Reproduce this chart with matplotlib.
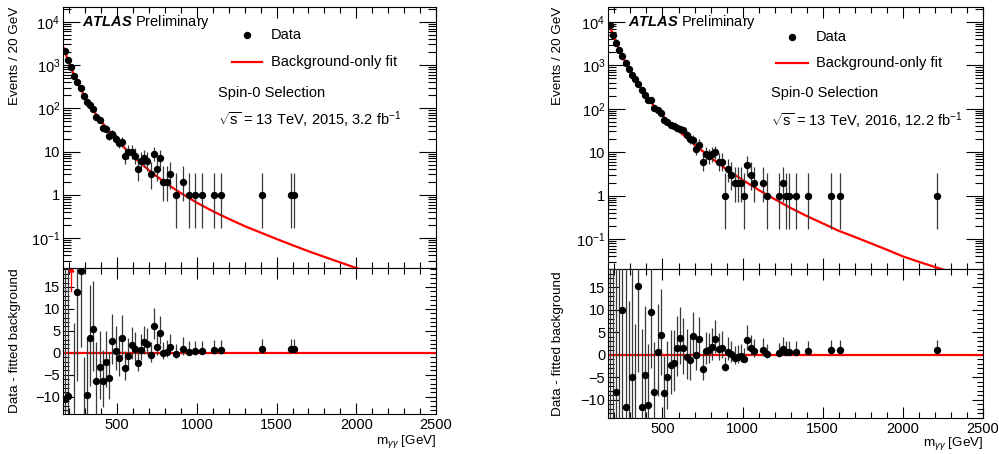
import numpy as np
import matplotlib
matplotlib.use("Agg")
import matplotlib.pyplot as plt
from matplotlib.lines import Line2D
from matplotlib.ticker import MultipleLocator, FixedLocator, LogLocator, FuncFormatter, NullFormatter

plt.rcParams["font.family"] = ["Liberation Sans", "DejaVu Sans"]
plt.rcParams["mathtext.fontset"] = "custom"
plt.rcParams["mathtext.rm"] = "Liberation Sans"
plt.rcParams["mathtext.it"] = "Liberation Sans:italic"
plt.rcParams["mathtext.bf"] = "Liberation Sans:bold"
plt.rcParams["mathtext.bfit"] = "Liberation Sans:italic:bold"

# ---- 2015 data (3.2 fb-1) ----
mass_2015 = [170, 190, 210, 230, 250, 270, 290, 310, 330, 350,
             370, 390, 410, 430, 450, 470, 490, 510, 530, 550,
             570, 590, 610, 630, 650, 670, 690, 710, 730, 750,
             770, 790, 810, 830, 870, 910, 950, 990, 1030, 1110,
             1150, 1410, 1590, 1610]
counts_2015 = [2150, 1310, 905, 550, 405, 300, 190, 142, 120, 95,
               63, 53, 36, 34, 23, 26, 20, 16, 17, 8,
               10, 10, 8, 4, 6, 7, 6, 3, 9, 4,
               7, 2, 2, 3, 1, 2, 1, 1, 1, 1,
               1, 1, 1, 1]
resid_2015 = [-10.5, -9.7, 39, -17.7, 13.8, 18.6, -15.8, -9.5, 3.4, 5.5,
              -6.5, -3.3, -6.4, -2.0, -5.7, 2.6, 0.5, -1.2, 3.4, -3.5,
              -0.8, 1.7, 0.9, -2.2, 0.7, 2.4, 2.1, -0.5, 6.0, 1.4,
              4.6, -0.1, 0.3, 1.4, -0.3, 0.9, 0.3, 0.4, 0.5, 0.6,
              0.6, 0.87, 0.93, 0.93]
fit_m_2015 = [160, 200, 250, 300, 350, 400, 450, 500, 550, 600, 650, 700, 750,
              800, 850, 900, 1000, 1100, 1200, 1300, 1400, 1500, 1600, 1700,
              1800, 1900, 2000, 2050]
fit_2015 = [2700, 1060, 391, 178, 90, 50, 29.5, 18.5, 11.8, 7.8, 5.3, 3.7, 2.65,
            1.95, 1.45, 1.1, 0.66, 0.42, 0.28, 0.19, 0.135, 0.096, 0.069, 0.05,
            0.037, 0.0275, 0.0205, 0.018]

# ---- 2016 data (12.2 fb-1) ----
mass_2016 = [170, 190, 210, 230, 250, 270, 290, 310, 330, 350,
             370, 390, 410, 430, 450, 470, 490, 510, 530, 550,
             570, 590, 610, 630, 650, 670, 690, 710, 730, 750,
             770, 790, 810, 830, 850, 870, 890, 910, 930, 950,
             970, 990, 1010, 1030, 1050, 1070, 1130, 1150, 1230, 1250,
             1270, 1290, 1330, 1410, 1550, 1610, 2210]
counts_2016 = [8300, 5100, 3330, 2270, 1600, 1130, 840, 605, 475, 368,
               272, 208, 160, 158, 104, 96, 82, 54, 50, 43,
               40, 37, 34, 32, 25, 20, 19, 12, 15, 6,
               9, 8, 9, 10, 6, 6, 1, 4, 3, 2,
               2, 2, 1, 5, 3, 2, 2, 1, 1, 2,
               1, 1, 1, 1, 1, 1, 1]
resid_2016 = [-30, -22, -8.2, -20, 10.0, -11.6, -18, -5.0, -16, 15.3,
              -11.7, -4.5, -11.3, 9.6, -8.3, 0.5, 4.5, -8.6, -5.0, -2.2,
              -1.8, 1.4, 3.8, 1.4, -0.4, -1.1, 4.1, -0.1, 3.4, -3.2,
              0.9, 1.0, 1.8, 3.4, 1.2, 1.6, -2.8, 0.7, 0.1, -0.7,
              -0.5, -0.3, -0.9, 3.3, 1.5, 0.8, 1.1, 0.2, 0.4, 1.3,
              0.7, 0.7, 0.7, 0.8, 1.0, 1.0, 1.0]
fit_m_2016 = [170, 200, 250, 300, 350, 400, 450, 500, 550, 600, 650, 700, 750,
              800, 850, 900, 1000, 1100, 1200, 1300, 1400, 1500, 1600, 1700,
              1800, 1900, 2000, 2100, 2200, 2300]
fit_2016 = [8250, 4150, 1590, 720, 360, 190, 113, 70, 45, 31, 21.5, 15, 10.6,
            7.6, 5.5, 4.0, 2.3, 1.35, 0.83, 0.52, 0.34, 0.23, 0.155, 0.112,
            0.08, 0.057, 0.04, 0.03, 0.0228, 0.0175]

resid_ticks = [-10, -5, 0, 5, 10, 15]

W, H = 999, 454


def fx(px):
    return px / W


def fy(py):
    return 1 - py / H


def poisson_err(n):
    # approximate Garwood 68% intervals
    n = np.asarray(n, float)
    lo = n * (1 - 1 / (9 * n) - 1 / (3 * np.sqrt(n))) ** 3
    up = (n + 1) * (1 - 1 / (9 * (n + 1)) + 1 / (3 * np.sqrt(n + 1))) ** 3
    return n - lo, up - n


def log_fmt(v, pos):
    if abs(v - 1) < 1e-9:
        return "1"
    if abs(v - 10) < 1e-9:
        return "10"
    return r"$10^{%d}$" % int(round(np.log10(v)))


def style_axes(ax, ylen_major, ylen_minor):
    ax.tick_params(which="both", direction="in", top=True, right=True,
                   labelsize=10.5, width=0.8)
    ax.tick_params(axis="x", which="major", length=8, pad=3)
    ax.tick_params(axis="x", which="minor", length=4)
    ax.tick_params(axis="y", which="major", length=ylen_major, pad=2)
    ax.tick_params(axis="y", which="minor", length=ylen_minor)
    for s in ax.spines.values():
        s.set_linewidth(0.8)
    ax.xaxis.set_major_locator(MultipleLocator(500))
    ax.xaxis.set_minor_locator(MultipleLocator(100))


def draw_panel(fig, box, mass, counts, resid, fit_m, fit_v, ylims, texts):
    left, right, top, mid, bottom = box
    ax = fig.add_axes([fx(left), fy(mid), (right - left) / W, (mid - top) / H])
    axr = fig.add_axes([fx(left), fy(bottom), (right - left) / W, (bottom - mid) / H])
    lo, up = poisson_err(counts)

    ax.set_yscale("log")
    ax.set_xlim(160, 2500)
    ax.set_ylim(0.0205, 2.2e4)
    ax.plot(fit_m, fit_v, color="red", lw=1.6, zorder=2)
    ax.errorbar(mass, counts, yerr=[lo, up], fmt="o", color="black", ms=4.3,
                ecolor="#3a3a3a", elinewidth=0.9, capsize=0, zorder=3)
    style_axes(ax, 12, 6)
    ax.yaxis.set_major_locator(FixedLocator([0.1, 1, 10, 100, 1000, 10000]))
    ax.yaxis.set_minor_locator(LogLocator(base=10, subs=np.arange(2, 10), numticks=12))
    ax.yaxis.set_major_formatter(FuncFormatter(log_fmt))
    ax.yaxis.set_minor_formatter(NullFormatter())
    ax.tick_params(labelbottom=False)

    # residual panel; points above the range are shown as a red arrow only
    res = np.array(resid, float)
    over = res > ylims[1]
    res_drawn = np.where(over, np.nan, res)
    axr.set_xlim(160, 2500)
    axr.set_ylim(*ylims)
    axr.axhline(0, color="red", lw=1.6, zorder=2)
    axr.errorbar(mass, res_drawn, yerr=[lo, up], fmt="o", color="black", ms=4.3,
                 ecolor="#3a3a3a", elinewidth=0.9, capsize=0, zorder=3)
    for m in np.array(mass)[over]:
        axr.add_artist(Line2D([m, m], [ylims[1] - 5.2, ylims[1] - 0.3], color="red",
                              lw=1, marker="^", markevery=[1], ms=3.5))
    style_axes(axr, 8, 4)
    axr.yaxis.set_major_locator(FixedLocator(resid_ticks))
    axr.yaxis.set_minor_locator(MultipleLocator(1))

    # labels
    fig.text(fx(texts["ylab_x"]), fy(top), "Events / 20 GeV", rotation=90,
             ha="center", va="top", fontsize=9.7)
    fig.text(fx(texts["ylab_x"]), fy((mid + bottom) / 2), "Data - fitted background",
             rotation=90, ha="center", va="center", fontsize=9.7)
    fig.text(fx(right), fy(texts["xlab_y"]), r"m$_{\gamma\gamma}$ [GeV]",
             ha="right", va="center", fontsize=9.7)

    # ATLAS label and legend
    tx = texts
    fig.text(fx(tx["atlas"][0]), fy(tx["atlas"][1]), r"$\mathbfit{ATLAS}$ Preliminary",
             ha="left", va="center", fontsize=10.5)
    lx0, lx1 = tx["leg_line"]
    fig.add_artist(Line2D([fx((lx0 + lx1) / 2)], [fy(tx["leg_data_y"])], marker="o",
                          color="black", ms=4.3, transform=fig.transFigure))
    fig.add_artist(Line2D([fx(lx0), fx(lx1)], [fy(tx["leg_fit_y"])] * 2, color="red",
                          lw=1.6, transform=fig.transFigure))
    fig.text(fx(tx["leg_text_x"]), fy(tx["leg_data_y"]), "Data", ha="left",
             va="center", fontsize=10.5)
    fig.text(fx(tx["leg_text_x"]), fy(tx["leg_fit_y"]), "Background-only fit",
             ha="left", va="center", fontsize=10.5)
    fig.text(fx(tx["info_x"]), fy(tx["info_y"][0]), "Spin-0 Selection", ha="left",
             va="center", fontsize=10.5)
    fig.text(fx(tx["info_x"]), fy(tx["info_y"][1]), tx["lumi"], ha="left",
             va="center", fontsize=10.5)
    return ax, axr


fig = plt.figure(figsize=(W / 100, H / 100), dpi=100)

draw_panel(fig, (63, 436, 7, 268, 414), mass_2015, counts_2015, resid_2015,
           fit_m_2015, fit_2015, (-13.9, 19.3),
           dict(ylab_x=15, xlab_y=441, atlas=(82, 22), leg_line=(232, 262),
                leg_data_y=35, leg_fit_y=62, leg_text_x=271, info_x=218,
                info_y=(93, 120),
                lumi=r"$\sqrt{\mathrm{s}}$ = 13 TeV, 2015, 3.2 fb$^{-1}$"))

draw_panel(fig, (608, 983, 7, 269, 418), mass_2016, counts_2016, resid_2016,
           fit_m_2016, fit_2016, (-14.1, 19.1),
           dict(ylab_x=558, xlab_y=443, atlas=(628, 22), leg_line=(776, 808),
                leg_data_y=37, leg_fit_y=63, leg_text_x=816, info_x=771,
                info_y=(93, 121),
                lumi=r"$\sqrt{\mathrm{s}}$ = 13 TeV, 2016, 12.2 fb$^{-1}$"))

fig.savefig("out.png", dpi=100)
